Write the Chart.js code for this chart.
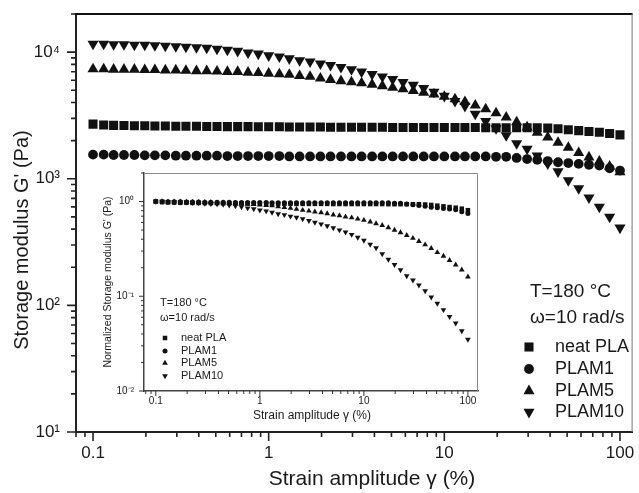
<!DOCTYPE html>
<html><head><meta charset="utf-8">
<script src="https://cdn.jsdelivr.net/npm/chart.js@4.4.1/dist/chart.umd.min.js"></script>
<style>
html,body{margin:0;padding:0;background:#fff;}
#wrap{position:relative;width:639px;height:493px;overflow:hidden;}
#main{position:absolute;left:0;top:0;}
#inset{position:absolute;left:92px;top:168px;}
</style></head><body>
<div id="wrap"><canvas id="main" width="639" height="493"></canvas><canvas id="inset" width="392" height="260"></canvas></div>
<script>
// ---------------- data ----------------
const strain = [0.1,0.115,0.131,0.15,0.172,0.197,0.225,0.258,0.296,0.338,
 0.388,0.444,0.508,0.582,0.666,0.763,0.873,1,1.15,1.31,
 1.5,1.72,1.97,2.25,2.58,2.96,3.38,3.88,4.44,5.08,
 5.82,6.66,7.63,8.73,10,11.5,13.1,15,17.2,19.7,
 22.5,25.8,29.6,33.8,38.8,44.4,50.8,58.2,66.6,76.3,
 87.3,100];
const seriesNames = ['neat PLA','PLAM1','PLAM5','PLAM10'];
// storage modulus G' (Pa)
const neatPLA = [2700,2660,2640,2630,2620,2620,2610,2610,2600,2600,
 2600,2590,2590,2580,2580,2580,2570,2570,2570,2560,
 2560,2560,2560,2550,2550,2550,2550,2550,2550,2540,
 2540,2540,2540,2540,2540,2540,2540,2540,2530,2530,
 2530,2530,2530,2530,2510,2480,2440,2400,2360,2330,
 2280,2220];
const plam1 = [1550,1550,1540,1540,1540,1530,1530,1530,1520,1520,
 1520,1520,1520,1510,1510,1510,1510,1510,1510,1500,
 1500,1500,1500,1500,1500,1500,1500,1500,1500,1500,
 1500,1500,1500,1500,1500,1500,1500,1500,1500,1490,
 1490,1460,1430,1410,1380,1350,1330,1310,1290,1270,
 1210,1160];
const plam5 = [7350,7350,7300,7300,7300,7250,7250,7200,7200,7150,
 7100,7100,7050,7000,7000,6900,6850,6780,6700,6650,
 6500,6400,6200,6050,5920,5800,5700,5550,5400,5250,
 5100,4950,4800,4650,4450,4250,4050,3800,3550,3300,
 3050,2800,2550,2320,2120,1930,1760,1600,1480,1370,
 1250,1130];
const plam10 = [11600,11600,11500,11500,11400,11400,11300,11200,11100,11000,
 10900,10800,10600,10400,10200,9900,9700,9400,9200,8900,
 8600,8400,8100,7900,7600,7300,7000,6700,6400,6100,
 5800,5500,5200,4850,4500,4100,3750,3250,2850,2500,
 2200,1900,1720,1520,1320,1140,970,840,710,600,
 500,410];
// inset: normalized storage modulus
const normNeatPLA = [1,0.985,0.978,0.974,0.97,0.97,0.967,0.967,0.963,0.963,
 0.963,0.959,0.959,0.956,0.956,0.956,0.952,0.952,0.952,0.948,
 0.948,0.948,0.948,0.944,0.944,0.944,0.944,0.944,0.944,0.941,
 0.941,0.941,0.941,0.941,0.941,0.941,0.941,0.941,0.937,0.937,
 0.937,0.937,0.937,0.937,0.93,0.919,0.904,0.889,0.874,0.86,
 0.84,0.81];
const normPLAM1 = [1,1,0.994,0.994,0.994,0.987,0.987,0.987,0.981,0.981,
 0.981,0.981,0.981,0.974,0.974,0.974,0.974,0.974,0.974,0.968,
 0.968,0.968,0.968,0.968,0.968,0.968,0.968,0.968,0.968,0.968,
 0.968,0.968,0.968,0.968,0.968,0.968,0.968,0.968,0.968,0.961,
 0.961,0.942,0.923,0.91,0.89,0.871,0.858,0.845,0.832,0.819,
 0.781,0.748];
const normPLAM5 = [1,1,0.993,0.993,0.993,0.986,0.986,0.98,0.98,0.973,
 0.966,0.966,0.959,0.952,0.952,0.939,0.932,0.922,0.912,0.905,
 0.884,0.87,0.85,0.83,0.81,0.795,0.78,0.765,0.745,0.725,
 0.71,0.69,0.675,0.655,0.635,0.61,0.585,0.56,0.53,0.5,
 0.47,0.44,0.41,0.38,0.35,0.32,0.29,0.265,0.24,0.215,
 0.19,0.16];
const normPLAM10 = [1,1,0.991,0.991,0.983,0.983,0.974,0.966,0.957,0.948,
 0.94,0.931,0.914,0.897,0.879,0.853,0.836,0.81,0.793,0.767,
 0.741,0.724,0.698,0.681,0.655,0.629,0.603,0.578,0.552,0.526,
 0.5,0.474,0.448,0.418,0.388,0.353,0.323,0.28,0.245,0.215,
 0.19,0.164,0.148,0.131,0.114,0.098,0.084,0.072,0.061,0.052,
 0.043,0.035];
// ticks
const xTicks = [0.1,1,10,100];
const xTickLabels = ['0.1','1','10','100'];
const mainYTicks = [10,100,1000,10000];
const mainYTickLabels = ['10\u00B9','10\u00B2','10\u00B3','10\u2074'];
const insetYTicks = [0.01,0.1,1];
const insetYTickLabels = ['10\u207B\u00B2','10\u207B\u00B9','10\u2070'];

// ---------------- helpers ----------------
const FONT = '"Liberation Sans", Arial, Helvetica, sans-serif';
const INK = '#111';
const styles = ['rect','circle','triangle','triangle'];
const rots = [0,0,0,180];

function makeDatasets(series, radii) {
  return series.map((vals,k)=>({
    label: seriesNames[k],
    data: strain.map((x,i)=>({x:x, y:vals[i]})),
    pointStyle: styles[k], pointRotation: rots[k], pointRadius: radii[k],
    pointHoverRadius: radii[k],
    pointBackgroundColor: INK, pointBorderColor: INK, pointBorderWidth: 0,
    showLine: false
  }));
}
function minorValues(lo, hi) {
  const out = [];
  for (let e = -3; e <= 5; e++) {
    for (let m = 1; m <= 9; m++) {
      const v = m * Math.pow(10, e);
      if (v >= lo*0.9999 && v <= hi*1.0001) out.push(v);
    }
  }
  return out;
}
function drawTicks(ctx, scale, majors, lo, hi, lenMaj, lenMin, isX, color, width) {
  const isMajor = v => majors.some(m => Math.abs(m - v) / m < 1e-6);
  ctx.save(); ctx.strokeStyle = color; ctx.lineWidth = width; ctx.beginPath();
  minorValues(lo, hi).forEach(v => {
    const p = scale.getPixelForValue(v);
    const len = isMajor(v) ? lenMaj : lenMin;
    if (isX) { ctx.moveTo(p, scale.top); ctx.lineTo(p, scale.top + len); }
    else { ctx.moveTo(scale.right, p); ctx.lineTo(scale.right - len, p); }
  });
  ctx.stroke(); ctx.restore();
}
function marker(ctx, style, x, y, r, rot) {
  ctx.beginPath();
  if (style === 'circle') ctx.arc(x, y, r, 0, Math.PI*2);
  else if (style === 'rect') { const s = r*Math.SQRT1_2; ctx.rect(x-s, y-s, 2*s, 2*s); }
  else {
    let a = rot*Math.PI/180;
    for (let k = 0; k < 3; k++) {
      const px = x + Math.sin(a)*r, py = y - Math.cos(a)*r;
      if (k) ctx.lineTo(px, py); else ctx.moveTo(px, py);
      a += 2*Math.PI/3;
    }
    ctx.closePath();
  }
  ctx.fill();
}
function text(ctx, str, x, y, size, align, rotate) {
  ctx.save();
  ctx.font = size + 'px ' + FONT;
  ctx.fillStyle = '#1a1a1a';
  ctx.textAlign = align || 'left';
  ctx.textBaseline = 'middle';
  ctx.translate(x, y);
  if (rotate) ctx.rotate(rotate);
  ctx.fillText(str, 0, 0);
  ctx.restore();
}
function noPad(s) { s.paddingLeft = 0; s.paddingRight = 0; s.paddingTop = 0; s.paddingBottom = 0; }

// ---------------- main chart ----------------
const mainRadii = [6.4, 4.9, 6.4, 6.4];
const mainDecor = {
  id: 'mainDecor',
  beforeDraw(chart) {
    const c = chart.ctx; c.save(); c.fillStyle = '#fff'; c.fillRect(0,0,chart.width,chart.height); c.restore();
  },
  afterDraw(chart) {
    const c = chart.ctx, a = chart.chartArea, sx = chart.scales.x, sy = chart.scales.y;
    drawTicks(c, sx, xTicks, 0.08, 118, 9, 5, true, '#222', 1.6);
    drawTicks(c, sy, mainYTicks, 10, 20000, 9, 5, false, '#222', 1.6);
    c.save();
    c.strokeStyle = '#111'; c.lineWidth = 2;
    c.beginPath(); c.moveTo(a.left-1, a.top); c.lineTo(a.right, a.top); c.stroke();
    c.strokeStyle = '#777'; c.lineWidth = 1;
    c.beginPath(); c.moveTo(a.right-0.5, a.top); c.lineTo(a.right-0.5, a.bottom); c.stroke();
    c.restore();
    text(c, "Storage modulus G' (Pa)", 22, 240, 20, 'center', -Math.PI/2);
    text(c, 'Strain amplitude \u03B3 (%)', 372, 479, 21, 'center');
    text(c, 'T=180 \u00B0C', 530, 292, 19, 'left');
    text(c, '\u03C9=10 rad/s', 530, 318, 19, 'left');
    const rows = [347, 369, 391, 412];
    c.save(); c.fillStyle = INK;
    rows.forEach((yy, k) => {
      marker(c, styles[k], 529, yy, mainRadii[k], rots[k]);
    });
    c.restore();
    rows.forEach((yy, k) => text(c, seriesNames[k], 555, yy, 18, 'left'));
  }
};

new Chart(document.getElementById('main'), {
  type: 'scatter',
  data: { datasets: makeDatasets([neatPLA, plam1, plam5, plam10], mainRadii) },
  options: {
    responsive: false, animation: false, devicePixelRatio: 1,
    layout: { padding: { top: 14, right: 2, left: 0, bottom: 0 } },
    plugins: { legend: { display: false }, tooltip: { enabled: false } },
    scales: {
      x: {
        type: 'logarithmic', min: 0.08, max: 118,
        afterBuildTicks: s => { s.ticks = xTicks.map(v => ({ value: v })); },
        afterFit: s => { s.height = 61; noPad(s); },
        grid: { display: false, drawTicks: false },
        border: { display: true, color: '#222', width: 2 },
        ticks: { autoSkip: false, maxRotation: 0, padding: 11, color: '#1a1a1a',
          font: { family: FONT, size: 17 },
          callback: v => xTickLabels[xTicks.indexOf(v)] }
      },
      y: {
        type: 'logarithmic', min: 10, max: 20000,
        afterBuildTicks: s => { s.ticks = mainYTicks.map(v => ({ value: v })); },
        afterFit: s => { s.width = 76; noPad(s); },
        grid: { display: false, drawTicks: false },
        border: { display: true, color: '#222', width: 2 },
        ticks: { autoSkip: false, padding: 16, color: '#1a1a1a',
          font: { family: FONT, size: 17 },
          callback: v => mainYTickLabels[mainYTicks.indexOf(v)] }
      }
    }
  },
  plugins: [mainDecor]
});

// ---------------- inset chart ----------------
const insetRadii = [3.2, 2.5, 3.3, 3.3];
const insetDecor = {
  id: 'insetDecor',
  beforeDraw(chart) {
    const c = chart.ctx; c.save(); c.fillStyle = '#fff'; c.fillRect(0,0,chart.width,chart.height); c.restore();
  },
  afterDraw(chart) {
    const c = chart.ctx, a = chart.chartArea, sx = chart.scales.x, sy = chart.scales.y;
    drawTicks(c, sx, xTicks, 0.077, 125, 5, 3, true, '#333', 1);
    drawTicks(c, sy, insetYTicks, 0.01, 2, 5, 3, false, '#333', 1);
    c.save();
    c.strokeStyle = '#888'; c.lineWidth = 1;
    c.beginPath(); c.moveTo(a.left, a.top+0.5); c.lineTo(a.right-0.5, a.top+0.5); c.lineTo(a.right-0.5, a.bottom); c.stroke();
    c.restore();
    text(c, "Normalized Storage modulus G' (Pa)", 16, 114, 10.5, 'center', -Math.PI/2);
    text(c, 'Strain amplitude \u03B3 (%)', 220, 248, 12, 'center');
    text(c, 'T=180 \u00B0C', 68, 135, 11, 'left');
    text(c, '\u03C9=10 rad/s', 68, 150, 11, 'left');
    const rows = [170, 183, 195, 208];
    c.save(); c.fillStyle = INK;
    rows.forEach((yy, k) => marker(c, styles[k], 73, yy, insetRadii[k], rots[k]));
    c.restore();
    rows.forEach((yy, k) => text(c, seriesNames[k], 89, yy, 11, 'left'));
  }
};

new Chart(document.getElementById('inset'), {
  type: 'scatter',
  data: { datasets: makeDatasets([normNeatPLA, normPLAM1, normPLAM5, normPLAM10], insetRadii) },
  options: {
    responsive: false, animation: false, devicePixelRatio: 1,
    layout: { padding: { top: 5, right: 6, left: 0, bottom: 0 } },
    plugins: { legend: { display: false }, tooltip: { enabled: false } },
    scales: {
      x: {
        type: 'logarithmic', min: 0.077, max: 125,
        afterBuildTicks: s => { s.ticks = xTicks.map(v => ({ value: v })); },
        afterFit: s => { s.height = 37; noPad(s); },
        grid: { display: false, drawTicks: false },
        border: { display: true, color: '#444', width: 1.5 },
        ticks: { autoSkip: false, maxRotation: 0, padding: 4, color: '#1a1a1a',
          font: { family: FONT, size: 10 },
          callback: v => xTickLabels[xTicks.indexOf(v)] }
      },
      y: {
        type: 'logarithmic', min: 0.01, max: 2,
        afterBuildTicks: s => { s.ticks = insetYTicks.map(v => ({ value: v })); },
        afterFit: s => { s.width = 52; noPad(s); },
        grid: { display: false, drawTicks: false },
        border: { display: true, color: '#444', width: 1.5 },
        ticks: { autoSkip: false, padding: 10, color: '#1a1a1a',
          font: { family: FONT, size: 10 },
          callback: v => insetYTickLabels[insetYTicks.indexOf(v)] }
      }
    }
  },
  plugins: [insetDecor]
});
</script>
</body></html>
